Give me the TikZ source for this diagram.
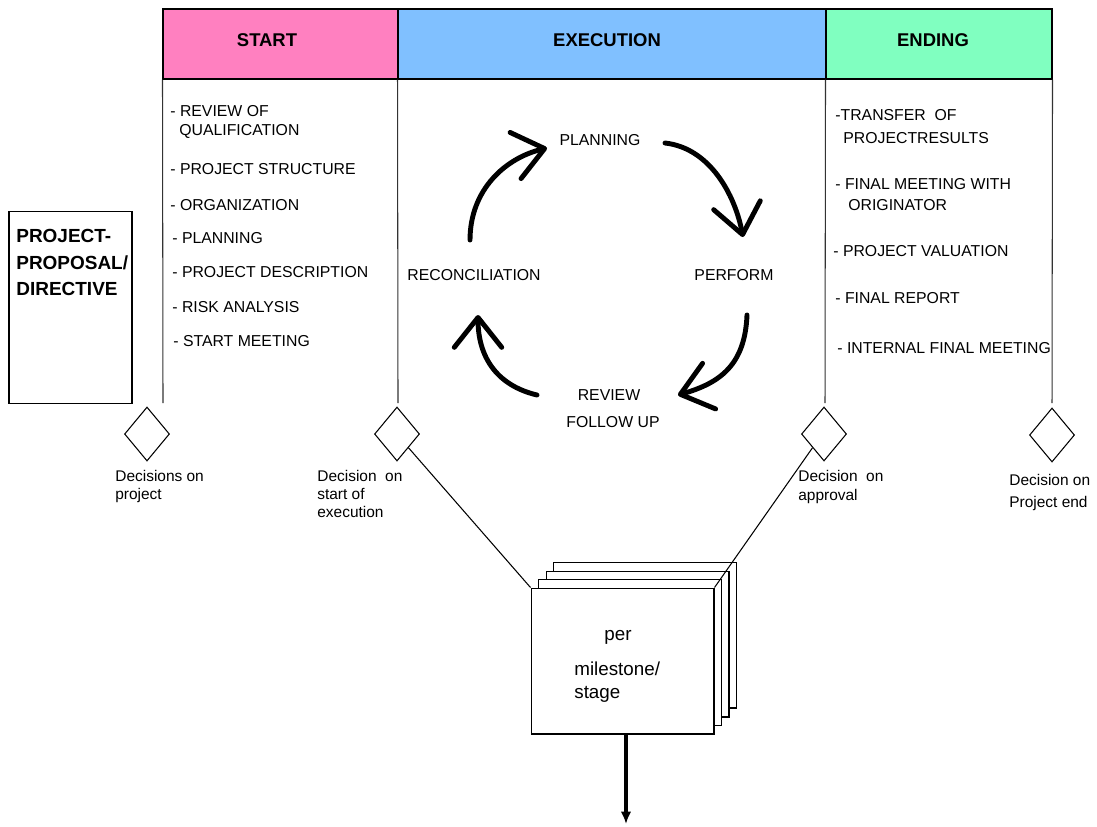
\documentclass[tikz,border=0pt]{standalone}
\usepackage{fontspec}
\setmainfont{Liberation Sans}
\usetikzlibrary{shapes.geometric,arrows.meta}

\definecolor{startpink}{HTML}{FF80C0}
\definecolor{execblue}{HTML}{80C0FF}
\definecolor{endgreen}{HTML}{80FFC0}

\begin{document}
\begin{tikzpicture}[x=0.02cm,y=-0.02cm,
  head/.style={draw, line width=0.6pt, minimum height=1.4cm, inner sep=0pt},
  headtxt/.style={font=\fontsize{10.5}{12}\selectfont\bfseries, anchor=base, inner sep=0pt},
  item/.style={font=\fontsize{9}{11}\selectfont, anchor=base west, inner sep=0pt},
  note/.style={font=\fontsize{8.8}{10}\selectfont, anchor=base west, inner sep=0pt},
  cyctxt/.style={font=\fontsize{9}{11}\selectfont, anchor=base, inner sep=0pt},
  decision/.style={diamond, draw, line width=0.6pt, inner sep=0pt, minimum width=0.9cm, minimum height=1.08cm},
  sheet/.style={draw, fill=white, line width=0.6pt, minimum width=3.66cm, minimum height=2.92cm},
  cyc/.style={line width=2.8pt, line cap=round, -{Straight Barb[length=17pt,width=27pt,round]}},
  lane/.style={line width=0.6pt, black!80}]

\useasboundingbox (0,0) rectangle (1097,826);

% phase header
\node[head, fill=startpink, minimum width=4.7cm] (hstart) at (280.5,44) {};
\node[head, fill=execblue, minimum width=8.56cm] (hexec) at (612,44) {};
\node[head, fill=endgreen, minimum width=4.52cm] (hend) at (939,44) {};
\node[headtxt] (tstart) at (267,46) {START};
\node[headtxt] (texec) at (607,46) {EXECUTION};
\node[headtxt] (tend) at (933,46) {ENDING};

% lanes
\draw[lane] (hstart.south west) -- (163,403);
\draw[lane] (hexec.south west) -- (398,403);
\draw[lane] (hend.south west) -- (825,403);
\draw[lane] (hend.south east) -- (1052,403);

% proposal
\node[draw, line width=0.6pt, minimum width=2.46cm, minimum height=3.84cm] (prop) at (70.5,307.5) {};
\node[item, font=\fontsize{10.8}{12}\selectfont\bfseries] (p1) at (16,242) {PROJECT-};
\node[item, font=\fontsize{10.8}{12}\selectfont\bfseries] (p2) at (16,269) {PROPOSAL/};
\node[item, font=\fontsize{10.8}{12}\selectfont\bfseries] (p3) at (16,295) {DIRECTIVE};

% start tasks
\foreach \xx/\yy/\txt [count=\i] in {170/116/- REVIEW OF, 179/135/QUALIFICATION,
    170/174/- PROJECT STRUCTURE, 170/210/- ORGANIZATION, 172/243/- PLANNING,
    172/277/- PROJECT DESCRIPTION, 172/312/- RISK ANALYSIS, 173/346/- START MEETING}
  \node[item] (s\i) at (\xx,\yy) {\txt};

% ending tasks
\foreach \xx/\yy/\txt [count=\i] in {835/120/-TRANSFER\ \ OF, 843/143/PROJECTRESULTS,
    835/189/- FINAL MEETING WITH, 848/210/ORIGINATOR, 833/256/- PROJECT VALUATION,
    835/303/- FINAL REPORT, 837/353/- INTERNAL FINAL MEETING}
  \node[item] (e\i) at (\xx,\yy) {\txt};

% cycle
\node[cyctxt] (plan) at (600,145) {PLANNING};
\node[cyctxt] (perf) at (734,280) {PERFORM};
\node[cyctxt] (recon) at (474,280) {RECONCILIATION};
\node[cyctxt] (rev) at (609,400) {REVIEW};
\node[cyctxt] (follow) at (613,427) {FOLLOW UP};

\coordinate (a1s) at (470,240); \coordinate (a1e) at (547,148);
\coordinate (a2s) at (665,143); \coordinate (a2e) at (743,237);
\coordinate (a3s) at (747,315); \coordinate (a3e) at (678,395);
\coordinate (a4s) at (537,395); \coordinate (a4e) at (478,315);
\draw[cyc] (a1s) .. controls (470,190) and (505,158) .. (a1e);
\draw[cyc] (a2s) .. controls (710,148) and (735,195) .. (a2e);
\draw[cyc] (a3s) .. controls (745,365) and (720,383) .. (a3e);
\draw[cyc] (a4s) .. controls (495,385) and (478,355) .. (a4e);

% decisions
\node[decision] (d1) at (147,434) {};
\node[decision] (d2) at (397,434) {};
\node[decision] (d3) at (824,434) {};
\node[decision] (d4) at (1052,435) {};

\node[note] (n1a) at (115,481) {Decisions on};
\node[note] (n1b) at (115,499) {project};
\node[note] (n2a) at (317,481) {Decision\ \ on};
\node[note] (n2b) at (317,499) {start of};
\node[note] (n2c) at (317,517) {execution};
\node[note] (n3a) at (798,481) {Decision\ \ on};
\node[note] (n3b) at (798,500) {approval};
\node[note] (n4a) at (1009,485) {Decision on};
\node[note] (n4b) at (1009,507) {Project end};

% milestone sheets
\node[sheet] (sh3) at (645,635) {};
\node[sheet] (sh2) at (637.5,644) {};
\node[sheet] (sh1) at (630,652.5) {};
\node[sheet] (sh0) at (622.5,661) {};
\draw[line width=0.6pt] (d2.south east) -- (sh0.north west);
\draw[line width=0.6pt] (d3.south west) -- (sh0.north east);
\node[cyctxt, font=\fontsize{10.7}{12}\selectfont] (per) at (618,640) {per};
\node[item, font=\fontsize{10.7}{12}\selectfont] (mile) at (574,675) {milestone/};
\node[item, font=\fontsize{10.7}{12}\selectfont] (stage) at (574,698) {stage};

\coordinate (out) at (626,824);
\draw[line width=2.3pt, -{Latex[length=7pt,width=6pt]}] (sh0.south -| out) -- (out);

\end{tikzpicture}
\end{document}
